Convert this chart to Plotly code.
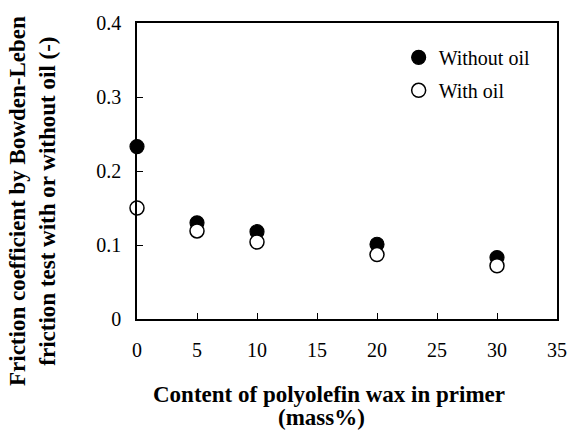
import plotly.graph_objects as go

# Wax content in primer (mass%)
wax_content = [0, 5, 10, 20, 30]
# Bowden-Leben friction coefficients
friction_without_oil = [0.233, 0.130, 0.118, 0.101, 0.083]
friction_with_oil = [0.150, 0.119, 0.104, 0.087, 0.072]

x_ticks = [0, 5, 10, 15, 20, 25, 30, 35]
y_ticks = [0, 0.1, 0.2, 0.3, 0.4]
y_tick_labels = ["0", "0.1", "0.2", "0.3", "0.4"]

FONT = "Liberation Serif, Times New Roman, serif"

fig = go.Figure()
fig.add_trace(go.Scatter(
    x=wax_content, y=friction_without_oil, mode="markers", name="Without oil",
    legendgroup="dry",
    marker=dict(symbol="circle", size=14, color="black",
                line=dict(color="black", width=1.2)),
    cliponaxis=False,
))
fig.add_trace(go.Scatter(
    x=wax_content, y=friction_with_oil, mode="markers", name="With oil",
    legendgroup="oiled",
    marker=dict(symbol="circle", size=14, color="white",
                line=dict(color="black", width=1.5)),
    cliponaxis=False,
))

fig.update_layout(
    width=579, height=444,
    margin=dict(l=137, r=17, t=20, b=125),
    paper_bgcolor="white", plot_bgcolor="white",
    font=dict(family=FONT, size=20, color="black"),
    showlegend=True,
    legend=dict(x=0.623, y=0.95, xanchor="left", yanchor="top",
                bgcolor="rgba(0,0,0,0)", font=dict(family=FONT, size=20),
                itemwidth=30, tracegroupgap=4),
    xaxis=dict(
        range=[0, 35], tickvals=x_ticks, ticks="inside", ticklen=6,
        tickcolor="black", showline=True, linecolor="black", linewidth=1.5,
        mirror=True, showgrid=False, zeroline=False,
        ticklabelstandoff=12,
    ),
    yaxis=dict(
        range=[0, 0.4], tickvals=y_ticks, ticktext=y_tick_labels,
        ticks="inside", ticklen=6, tickcolor="black",
        showline=True, linecolor="black", linewidth=1.5, mirror=True,
        showgrid=False, zeroline=False, ticklabelstandoff=10,
    ),
    annotations=[
        dict(text="<b>Content of polyolefin wax in primer</b>",
             xref="paper", yref="paper", x=0.456, y=-0.254,
             xanchor="center", yanchor="middle", showarrow=False,
             font=dict(family=FONT, size=23)),
        dict(text="<b>(mass%)</b>",
             xref="paper", yref="paper", x=0.44, y=-0.334,
             xanchor="center", yanchor="middle", showarrow=False,
             font=dict(family=FONT, size=23)),
        dict(text="<b>Friction coefficient by Bowden-Leben<br>friction test with or without oil (-)</b>",
             xref="paper", yref="paper", x=-0.249, y=0.40,
             xanchor="center", yanchor="middle", showarrow=False,
             textangle=-90, font=dict(family=FONT, size=23)),
    ],
)

fig.write_html("out.html")
